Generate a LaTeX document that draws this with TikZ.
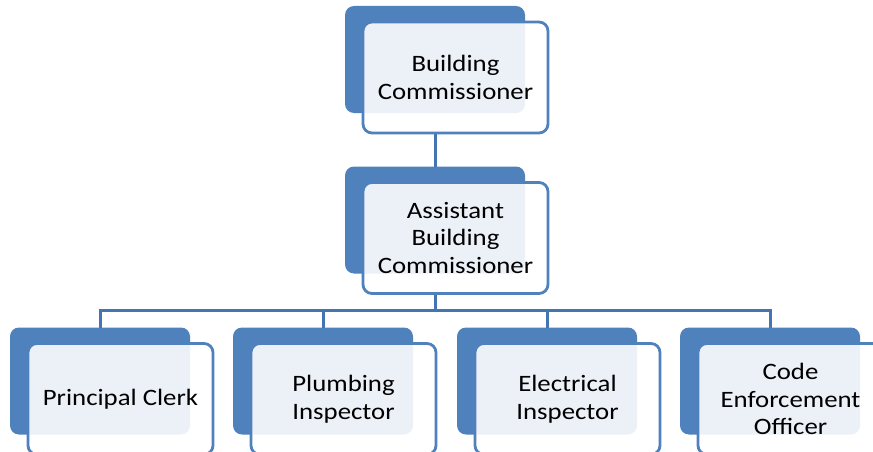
\documentclass[tikz,border=0pt]{standalone}
\usepackage{fontspec}
\setmainfont{Carlito}[FakeStretch=1.14]
\usetikzlibrary{backgrounds}

\definecolor{boxblue}{RGB}{79,129,189}
\definecolor{linkblue}{RGB}{68,116,178}
\definecolor{overlapfill}{RGB}{236,241,248}

\tikzset{
  backbox/.style={fill=boxblue, rounded corners=9pt, minimum width=180pt,
    minimum height=107pt, inner sep=0pt, outer sep=0pt},
  whitebox/.style={fill=white, rounded corners=9pt, minimum width=185pt,
    minimum height=111pt, inner sep=0pt, outer sep=0pt},
  frontbox/.style={draw=boxblue, line width=2.8pt, rounded corners=9pt,
    minimum width=185pt, minimum height=111pt, inner sep=0pt, outer sep=0pt,
    align=center, font=\fontsize{23.5pt}{27.5pt}\selectfont},
  link/.style={draw=linkblue, line width=3pt}
}

% one unit of the chart: name, centre of the dark box, text
\newcommand{\orgunit}[4]{%
  \node[backbox] (#1b) at (#2,#3) {};
  \node[whitebox] (#1w) at ([shift={(20.5pt,-18pt)}]#1b.center) {};
  \begin{scope}
    \clip[rounded corners=9pt] (#1b.south west) rectangle (#1b.north east);
    \fill[overlapfill, rounded corners=9pt] (#1w.south west) rectangle (#1w.north east);
  \end{scope}
  \node[frontbox] (#1) at (#1w.center) {#4};
}

\begin{document}
\begin{tikzpicture}[x=1pt, y=-1pt]
\useasboundingbox (0,0) rectangle (873,452);
\clip (0,0) rectangle (873,452);

\orgunit{comm}{435}{59.5}{Building\\Commissioner}
\orgunit{asst}{435}{220}{Assistant\\Building\\Commissioner}
\orgunit{clerk}{100}{381}{Principal Clerk}
\orgunit{plumb}{323}{381}{Plumbing\\Inspector}
\orgunit{elec}{547}{381}{Electrical\\Inspector}
\orgunit{code}{770}{381}{Code\\Enforcement\\Officer}

% connectors behind the boxes
\begin{pgfonlayer}{background}
\draw[link] (commb.south) -- (asstb.north);
\draw[link] (clerkb.north) -- ++(0,-17) -| (asstb.south);
\draw[link] (plumbb.north) -- ++(0,-17) -| (asstb.south);
\draw[link] (elecb.north) -- ++(0,-17) -| (asstb.south);
\draw[link] (codeb.north) -- ++(0,-17) -| (asstb.south);
\end{pgfonlayer}
\end{tikzpicture}
\end{document}
